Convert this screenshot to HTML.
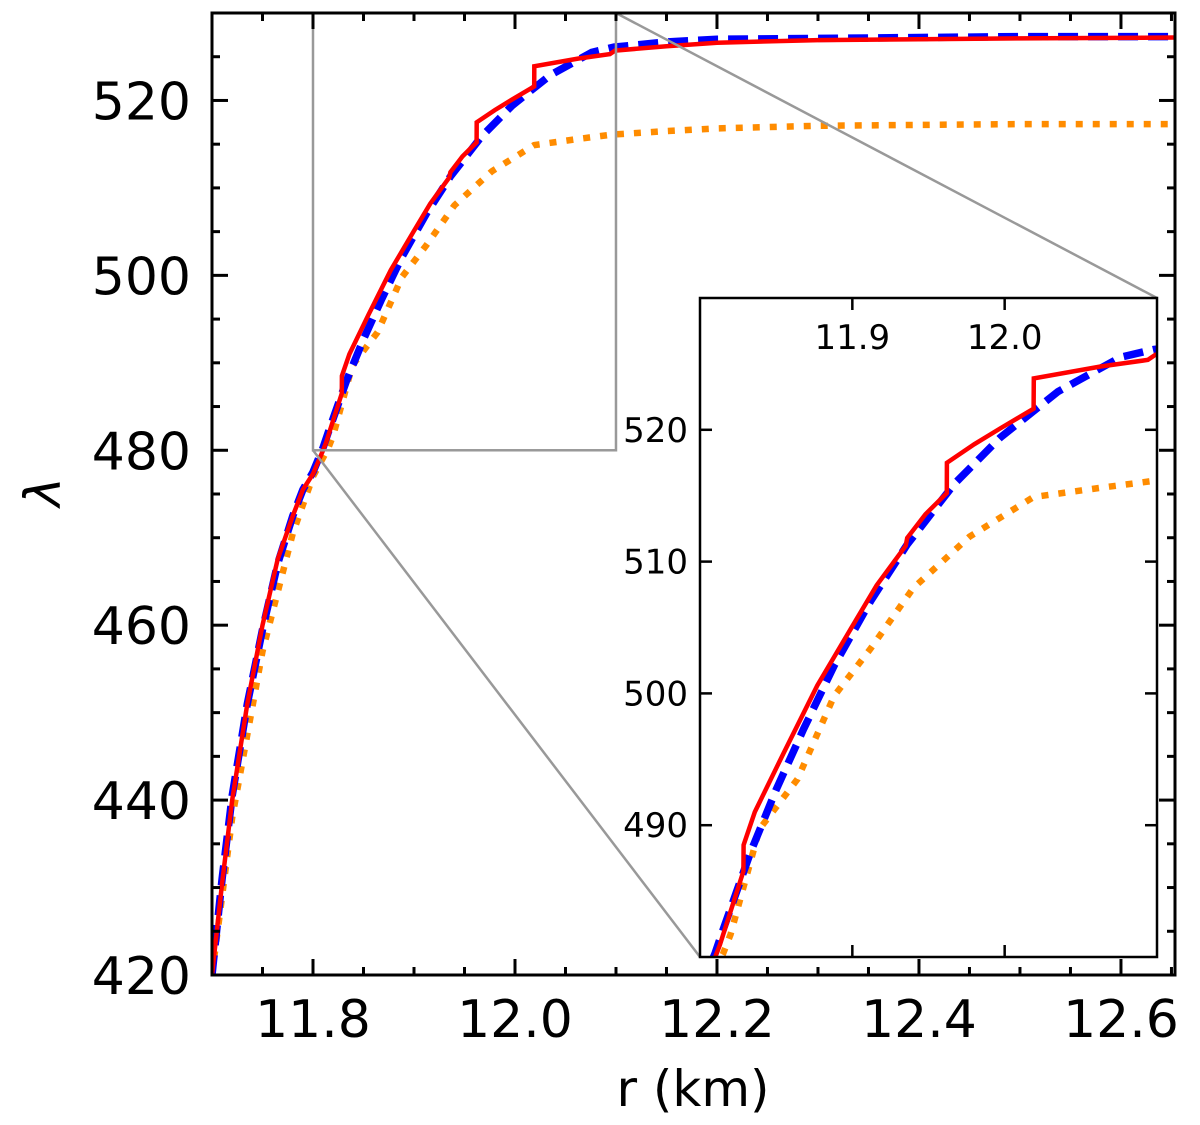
<!DOCTYPE html>
<html><head><meta charset="utf-8"><style>
html,body{margin:0;padding:0;background:#fff;overflow:hidden;width:1200px;height:1125px;}
svg{display:block;font-family:"DejaVu Sans","Liberation Sans",sans-serif;}
</style></head><body>
<svg id="chart" width="1200" height="1125" viewBox="0 0 1200 1125" xmlns="http://www.w3.org/2000/svg">
<defs>
<clipPath id="clipMain"><rect x="212" y="13" width="963" height="962"/></clipPath>
<clipPath id="clipInset"><rect x="700" y="298" width="457" height="659"/></clipPath>
</defs>
<g id="main-series" clip-path="url(#clipMain)"></g>
<g id="zoom-box"></g>
<g id="main-axes"></g>
<g id="inset"></g>
</svg>
<script>
const rRed = [11.70,11.71,11.72,11.735,11.75,11.765,11.78,11.79,11.80,11.81,11.813,11.8285,11.8286,11.836,11.855,11.877,11.899,11.916,11.935,11.936,11.948,11.962,11.9621,11.980,11.997,12.019,12.0191,12.063,12.094,12.099,12.15,12.2,12.3,12.4,12.5,12.66];
const lamRed = [420,430.5,440,451,460,467.5,472.5,475.5,477.3,480,480.9,486.5,488.5,491.0,495.5,500.6,504.9,508.2,511.2,511.8,513.6,515.2,517.5,518.9,520.1,521.6,523.9,524.8,525.3,525.7,526.2,526.6,526.9,527.0,527.1,527.2];
const rBlue = [11.70,11.71,11.72,11.735,11.75,11.765,11.78,11.79,11.80,11.81,11.815,11.833,11.850,11.868,11.888,11.912,11.936,11.967,11.997,12.035,12.076,12.098,12.15,12.2,12.3,12.4,12.5,12.66];
const lamBlue = [420,431,440.5,451,459.5,467,472.5,475.5,477.5,480.3,482.0,487.9,492.7,497.3,502.1,507.0,511.3,515.9,519.4,522.9,525.5,526.1,526.7,527.0,527.1,527.2,527.3,527.3];
const rOrange = [11.70,11.72,11.75,11.78,11.80,11.815,11.820,11.839,11.864,11.888,11.912,11.940,11.977,12.019,12.063,12.096,12.15,12.2,12.3,12.4,12.5,12.66];
const lamOrange = [420,438,457,470.5,477,480.2,481.7,489.7,493.5,499.8,503.4,508.0,511.9,514.9,515.6,516.1,516.5,516.8,517.1,517.2,517.3,517.3];
const mainXTicks = [11.8,12.0,12.2,12.4,12.6];
const mainXLabels = ["11.8","12.0","12.2","12.4","12.6"];
const mainYTicks = [420,440,460,480,500,520];
const mainYLabels = ["420","440","460","480","500","520"];
const insetXTicks = [11.9,12.0];
const insetXLabels = ["11.9","12.0"];
const insetYTicks = [490,500,510,520];
const insetYLabels = ["490","500","510","520"];

const NS="http://www.w3.org/2000/svg";
function mk(tag,attrs,parent){const e=document.createElementNS(NS,tag);for(const k in attrs)e.setAttribute(k,attrs[k]);parent.appendChild(e);return e;}
const M={x0:212,x1:1175,y0:975,y1:13,rmin:11.7,rmax:12.6535,lmin:420,lmax:530};
const mx=r=>M.x0+(r-M.rmin)/(M.rmax-M.rmin)*(M.x1-M.x0);
const my=l=>M.y0-(l-M.lmin)/(M.lmax-M.lmin)*(M.y0-M.y1);
const I={x0:700,x1:1157,y0:957,y1:298,rmin:11.8,rmax:12.1,lmin:480,lmax:530};
const ix=r=>I.x0+(r-I.rmin)/(I.rmax-I.rmin)*(I.x1-I.x0);
const iy=l=>I.y0-(l-I.lmin)/(I.lmax-I.lmin)*(I.y0-I.y1);

function pts(rs,ls,fx,fy){return rs.map((r,i)=>fx(r).toFixed(1)+","+fy(ls[i]).toFixed(1)).join(" ");}
function drawSeries(g,fx,fy){
  let o=mk('polyline',{points:pts(rOrange,lamOrange,fx,fy),fill:'none',stroke:'#ff8c00','stroke-width':6.5,'stroke-dasharray':'7 10'},g);
  
  
  let b=mk('polyline',{points:pts(rBlue,lamBlue,fx,fy),fill:'none',stroke:'#0000ff','stroke-width':7.5,'stroke-dasharray':'20 10'},g);
  
  
  let rd=mk('polyline',{points:pts(rRed,lamRed,fx,fy),fill:'none',stroke:'#ff0000','stroke-width':4.5,'stroke-linejoin':'miter'},g);
  
  
}
drawSeries(document.getElementById('main-series'),mx,my);

const zb=document.getElementById('zoom-box');
let rect=mk('rect',{x:mx(11.8),y:my(530),width:mx(12.1)-mx(11.8),height:my(480)-my(530),fill:'none',stroke:'#999','stroke-width':2.5},zb);


let c1=mk('line',{x1:mx(12.1),y1:my(530),x2:I.x1,y2:I.y1,stroke:'#999','stroke-width':2.5},zb);


let c2=mk('line',{x1:mx(11.8),y1:my(480),x2:I.x0,y2:I.y0,stroke:'#999','stroke-width':2.5},zb);



const ax=document.getElementById('main-axes');
let fr=mk('rect',{x:M.x0,y:M.y1,width:M.x1-M.x0,height:M.y0-M.y1,fill:'none',stroke:'#000','stroke-width':3},ax);


for(let r=11.7;r<=12.66;r+=0.05){
  const major=mainXTicks.some(t=>Math.abs(t-r)<1e-6);const L=major?16:8;const x=mx(r);
  mk('line',{x1:x,y1:M.y0,x2:x,y2:M.y0-L,stroke:'#000','stroke-width':3},ax);
  mk('line',{x1:x,y1:M.y1,x2:x,y2:M.y1+L,stroke:'#000','stroke-width':3},ax);
}
for(let l=420;l<=530;l+=5){
  const major=mainYTicks.includes(l);const L=major?16:8;const y=my(l);
  mk('line',{x1:M.x0,y1:y,x2:M.x0+L,y2:y,stroke:'#000','stroke-width':3},ax);
  mk('line',{x1:M.x1,y1:y,x2:M.x1-L,y2:y,stroke:'#000','stroke-width':3},ax);
}
mainXTicks.forEach((t,i)=>{
  let tx=mk('text',{x:mx(t),y:1037,'font-size':52,'text-anchor':'middle',fill:'#000'},ax);
  tx.textContent=mainXLabels[i];
  
  
});
mainYTicks.forEach((t,i)=>{
  let tx=mk('text',{x:191,y:my(t)+19,'font-size':52,'text-anchor':'end',fill:'#000'},ax);
  tx.textContent=mainYLabels[i];
  
  
});
let xt=mk('text',{x:693,y:1106,'font-size':50,'text-anchor':'middle',fill:'#000'},ax);
xt.textContent='r (km)';


let yt=mk('text',{x:0,y:0,'font-size':50,'text-anchor':'middle','font-style':'italic',fill:'#000',transform:'translate(60,492) rotate(-90)'},ax);
yt.textContent='λ';



const ins=document.getElementById('inset');
let bg=mk('rect',{x:I.x0,y:I.y1,width:I.x1-I.x0,height:I.y0-I.y1,fill:'#fff'},ins);


const ig=mk('g',{'clip-path':'url(#clipInset)'},ins);


drawSeries(ig,ix,iy);
let ifr=mk('rect',{x:I.x0,y:I.y1,width:I.x1-I.x0,height:I.y0-I.y1,fill:'none',stroke:'#000','stroke-width':2.5},ins);


insetXTicks.forEach((t,i)=>{
  const x=ix(t);
  mk('line',{x1:x,y1:I.y1,x2:x,y2:I.y1+12,stroke:'#000','stroke-width':2.5},ins);
  mk('line',{x1:x,y1:I.y0,x2:x,y2:I.y0-12,stroke:'#000','stroke-width':2.5},ins);
  let tx=mk('text',{x:x,y:349,'font-size':34,'text-anchor':'middle',fill:'#000'},ins);
  tx.textContent=insetXLabels[i];
  
  
});
insetYTicks.forEach((t,i)=>{
  const y=iy(t);
  mk('line',{x1:I.x0,y1:y,x2:I.x0+12,y2:y,stroke:'#000','stroke-width':2.5},ins);
  mk('line',{x1:I.x1,y1:y,x2:I.x1-12,y2:y,stroke:'#000','stroke-width':2.5},ins);
  let tx=mk('text',{x:688,y:y+12,'font-size':34,'text-anchor':'end',fill:'#000'},ins);
  tx.textContent=insetYLabels[i];
  
  
});
</script>
</body></html>
